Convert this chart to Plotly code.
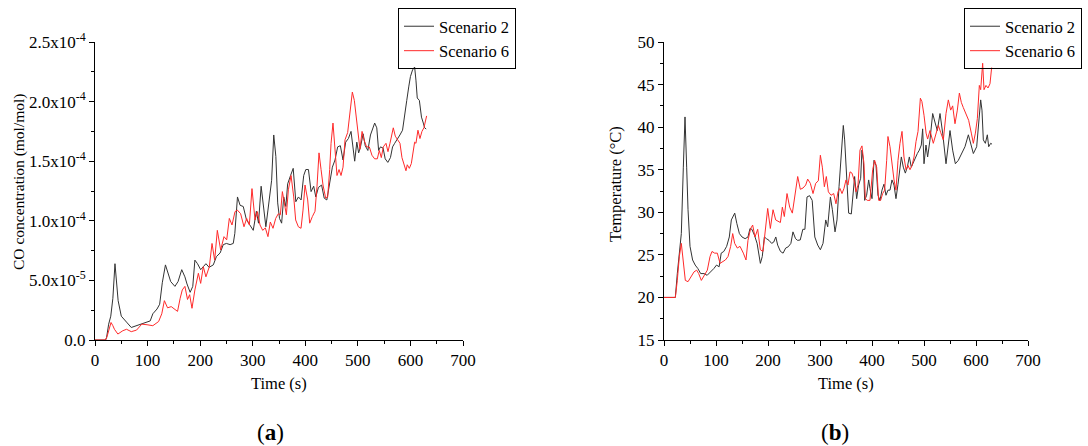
import numpy as np
import plotly.graph_objects as go

# ---------------- data ----------------
# (a) CO concentration, values in units of 1e-5 mol/mol
co_t_s2 = [0, 10, 20, 22, 26, 30, 34, 38, 41, 44, 50, 55, 60, 69, 79, 89, 99, 105, 110, 118, 123,
           128, 134, 139, 144, 152, 158, 165, 171, 175, 181, 186, 190, 195, 201, 206, 211, 217, 225,
           231, 238, 244, 250, 257, 263, 266, 271, 276, 282, 288, 295, 301, 307, 311, 316, 320, 325,
           329, 333, 336, 340, 344, 347.5, 351, 355, 359, 363, 366.5, 372, 377, 382, 387, 392, 397,
           401, 406, 411, 416, 420, 425, 431, 436, 441, 446, 451.5, 456.5, 461.6, 466.7, 471.8,
           476.8, 482, 487, 491, 494, 498, 501.5, 505, 510, 514, 519, 524, 529, 532, 536, 539.5,
           543, 548, 552, 557, 562, 566, 570, 575, 580, 585, 589, 593, 597, 600, 604, 608, 610.5,
           613, 617, 621, 624.5, 627, 630]
co_s2 = [0, 0, 0, 0.2, 1.33, 2.0, 3.5, 6.4, 4.8, 3.3, 2.0, 1.7, 1.5, 1.05, 1.2, 1.3, 1.5, 1.6, 2.2,
         2.6, 3.0, 4.8, 6.3, 5.6, 4.9, 4.5, 4.9, 5.9, 5.3, 4.7, 4.0, 4.5, 6.7, 6.4, 5.9, 6.15, 6.4,
         6.1, 6.3, 7.0, 7.3, 8.0, 8.1, 8.0, 8.1, 8.95, 12.0, 11.3, 11.2, 10.1, 9.65, 9.2, 10.8, 9.8,
         12.9, 11.2, 9.5, 10.9, 12.45, 13.4, 17.2, 15.4, 11.5, 10.2, 9.8, 12.0, 11.2, 13.1, 13.8,
         14.4, 11.6, 12.0, 11.75, 13.8, 14.3, 14.3, 12.45, 12.9, 12.0, 12.8, 13.0, 11.9, 11.75,
         13.1, 14.5, 15.1, 16.2, 16.3, 15.1, 16.6, 16.9, 17.5, 15.8, 15.0, 16.6, 15.7, 16.2, 17.3,
         16.3, 15.9, 17.2, 17.9, 18.2, 17.8, 15.9, 16.2, 16.1, 15.2, 14.9, 15.3, 16.2, 16.5, 16.8,
         17.2, 17.6, 18.7, 20.1, 21.3, 22.1, 22.65, 22.9, 21.8, 20.3, 20.1, 18.7, 18.2, 17.8, 17.7]

co_t_s6 = [0, 20, 23, 27, 30.5, 34, 37, 43.5, 53, 60, 69, 79, 89, 99, 110, 121, 127, 132, 138, 145,
           157, 162, 166, 171, 176, 180, 184.5, 190, 196.6, 201, 206, 211, 217.5, 222.6, 227.6,
           232.7, 239, 245.4, 250.5, 255.5, 260.6, 266.3, 270.7, 277, 283.4, 288.5, 293.6, 298.6,
           304.4, 308.8, 313.9, 319, 324, 329, 333.5, 338.6, 343.7, 348.8, 352.6, 356.4, 360.2, 364,
           367.8, 372.9, 378, 381.7, 386.8, 391.9, 395.7, 399.5, 404.6, 408.4, 413.4, 418.5, 422.3,
           426.1, 430, 433.7, 438.8, 442.6, 446.4, 449, 452.7, 456.5, 460.3, 464.2, 468, 471.8,
           475.6, 480.6, 485.7, 489.5, 493.3, 497.1, 501, 504, 508, 511.6, 516.7, 521.8, 526.8,
           531.9, 537, 540.8, 544.6, 548.4, 553.5, 557.3, 561.1, 565, 567.4, 571.2, 575, 580.1,
           583.9, 587.7, 591.5, 594, 597.9, 601.7, 605.5, 608, 610.5, 614.3, 618.1, 621.9, 625.7,
           628.3, 630.8]
co_s6 = [0, 0, 0.3, 1.0, 1.47, 1.2, 0.9, 0.5, 0.78, 0.9, 0.7, 0.83, 1.33, 1.28, 1.2, 1.55, 2.2, 3.3,
         2.7, 2.8, 2.4, 3.5, 4.2, 4.5, 3.4, 3.8, 2.66, 4.2, 5.6, 4.75, 6.15, 5.3, 6.15, 8.1, 6.7,
         9.2, 7.55, 8.67, 8.4, 10.2, 9.65, 10.77, 10.9, 10.6, 9.5, 10.2, 9.65, 12.7, 10.07, 10.77,
         9.65, 9.2, 9.4, 8.67, 9.9, 9.37, 10.2, 10.6, 10.5, 12.45, 11.5, 10.5, 12.6, 13.8, 12.0,
         10.07, 9.5, 9.37, 10.9, 13.0, 11.75, 9.8, 10.35, 10.8, 12.9, 15.7, 14.3, 13.0, 11.9, 12.0,
         14.3, 16.5, 18.2, 16.2, 13.8, 14.3, 13.8, 14.5, 16.8, 17.4, 19.3, 20.8, 20.1, 18.6, 16.8,
         16.0, 17.5, 16.8, 16.2, 16.2, 15.5, 15.2, 15.2, 15.9, 15.3, 16.2, 16.5, 15.8, 16.5, 17.3,
         17.8, 17.1, 16.8, 16.5, 15.3, 14.8, 14.2, 14.7, 14.4, 14.8, 15.8, 16.6, 16.5, 17.6, 16.9,
         17.5, 17.8, 18.2, 18.8]

# (b) Temperature (°C)
temp_t_s2 = [0, 21.8, 25.6, 29.5, 33.3, 37.2, 40.4, 43.6, 46.2, 50, 55, 60, 65, 70.5, 77, 83, 90, 96,
             101, 106, 110, 115, 120.5, 125.6, 129.5, 133.3, 136, 140, 145, 150, 156, 161.5, 165.4,
             169, 174, 179, 182.7, 185.3, 189, 193, 197, 202, 207, 211, 215, 218.6, 224, 229, 234,
             239, 244, 248, 253, 257, 262, 267, 271, 275, 280, 285, 290, 295.6, 300.7, 305.8, 311,
             314.8, 320, 323.8, 328.9, 332.7, 336.6, 342.3, 344.8, 347.4, 351.3, 355.1, 360.2, 364.1,
             366.6, 370.5, 374.3, 378.2, 380.7, 383.3, 385.9, 389.7, 393.6, 396.1, 400, 403.8, 407.7,
             411.5, 415.4, 419.2, 423, 426.9, 430.7, 434.6, 438.4, 442.3, 446.1, 450, 453.8, 456.4,
             460.2, 464.1, 467.9, 471.8, 475.6, 479.5, 483.3, 487.2, 491, 494.8, 497.4, 500, 503.8,
             507, 511.5, 516.7, 521, 525.6, 530.8, 535.9, 542.3, 546.8, 550, 555.1, 560.3, 566,
             572.4, 578.8, 585.3, 589.7, 594.9, 601.3, 606.4, 609, 611.5, 614.1, 618, 621.8, 624.4,
             628.2, 630.8]
temp_s2 = [20, 20, 22.8, 25.4, 27.5, 35.3, 41.2, 35.3, 30.3, 26.0, 24.4, 23.8, 23.4, 22.8, 22.8,
           22.6, 23.0, 23.4, 23.8, 23.6, 25.2, 25.4, 26.0, 27.1, 29.1, 29.5, 29.9, 28.7, 27.5, 27.1,
           26.9, 27.1, 28.1, 28.0, 27.3, 26.35, 24.6, 24.0, 24.8, 27.1, 26.9, 26.7, 26.35, 26.5,
           27.1, 26.15, 25.4, 25.2, 25.8, 25.95, 26.35, 27.7, 26.9, 26.7, 26.75, 28.0, 28.0, 31.8,
           31.95, 31.4, 27.1, 26.15, 25.6, 26.35, 29.1, 28.3, 31.8, 30.3, 27.7, 29.1, 33.0, 37.7,
           40.2, 38.5, 33.8, 29.9, 29.8, 32.6, 34.2, 31.6, 33.2, 34.0, 37.3, 36.1, 31.4, 32.0, 33.8,
           32.8, 31.6, 36.1, 35.5, 32.0, 31.4, 32.6, 33.3, 32.0, 32.6, 32.6, 33.8, 33.2, 31.6, 33.3,
           35.7, 36.5, 35.3, 34.6, 35.3, 36.5, 35.3, 35.9, 36.5, 36.9, 37.3, 37.9, 39.8, 35.7, 37.9,
           36.5, 38.5, 41.6, 40.6, 39.6, 41.6, 39.3, 35.7, 37.7, 39.6, 37.3, 35.7, 36.1, 36.9, 37.7,
           39.1, 38.1, 36.9, 37.7, 41.0, 43.2, 42.0, 38.5, 38.1, 39.1, 37.7, 38.1, 38.0]

temp_t_s6 = [0, 21.8, 25.6, 29.5, 33.3, 37.2, 41, 46.2, 51.3, 57.7, 62.8, 66.7, 71.8, 78.2, 83.3,
             88.5, 92.3, 97.4, 102.6, 107.7, 112.8, 118, 123.1, 128.2, 132.1, 135.9, 141, 146.2,
             152.6, 157.7, 161.5, 166.7, 170.5, 175, 180.2, 185.3, 190.4, 194.3, 199.4, 204.5,
             209.7, 214.8, 219.9, 223.8, 227.6, 231.4, 236.6, 241.7, 246.8, 252, 257.1, 262.2,
             267.3, 272.5, 276.3, 281.4, 286.6, 291.7, 296.8, 300.7, 304.5, 308.4, 312.2, 316.1,
             321.2, 326.3, 330.7, 334.6, 338.4, 342.3, 346.1, 350, 353.8, 357.7, 361.5, 365.4,
             369.2, 373.1, 376.9, 380.7, 384.6, 387.2, 391, 396.1, 401.3, 405.1, 409, 412.8, 416.6,
             420.5, 424.3, 428.2, 430.7, 434.6, 438.4, 442.3, 446.1, 450, 453.8, 457.7, 461.5,
             465.4, 469.2, 473.1, 477, 480.8, 484.6, 488.5, 493, 496, 500, 504, 507, 511.5, 517.9,
             523, 527.6, 532, 537.2, 542.3, 546.8, 551.3, 555.1, 559.6, 564.1, 568, 571.8, 575.6,
             580.8, 585.9, 591, 594.9, 598.8, 602.6, 606.4, 609, 612.8, 615.4, 619.2, 623.1, 626.9,
             630.1]
temp_s6 = [20, 20, 22.0, 24.8, 26.35, 24.4, 22.0, 21.85, 22.4, 23.0, 23.2, 22.8, 22.0, 22.6, 23.2,
           24.8, 25.4, 25.2, 25.2, 24.0, 24.2, 24.4, 24.8, 26.0, 27.5, 26.35, 25.8, 26.0, 25.2, 24.4,
           26.7, 28.1, 28.5, 27.1, 28.0, 25.6, 25.4, 28.0, 30.45, 28.1, 30.3, 29.1, 28.9, 28.8, 30.6,
           29.5, 32.2, 30.6, 29.9, 31.95, 34.2, 32.7, 32.85, 33.2, 33.9, 33.4, 32.2, 33.4, 33.7, 36.7,
           35.3, 33.0, 34.2, 32.4, 32.0, 32.2, 31.0, 32.4, 32.8, 32.2, 32.8, 33.8, 33.2, 34.75, 34.6,
           33.8, 32.4, 33.2, 37.3, 37.8, 35.7, 31.6, 31.4, 31.4, 35.0, 36.1, 35.3, 31.4, 31.4, 32.2,
           32.6, 36.1, 38.9, 37.7, 35.7, 33.8, 32.6, 36.1, 38.1, 39.5, 36.5, 35.0, 35.5, 35.0, 35.5,
           36.5, 38.3, 39.5, 43.4, 43.0, 41.4, 39.3, 38.6, 39.6, 38.1, 39.3, 40.2, 39.4, 38.5, 41.6,
           43.2, 42.0, 42.5, 40.4, 42.0, 44.0, 42.9, 42.3, 41.6, 40.8, 39.3, 38.1, 39.3, 41.0, 44.9,
           44.4, 47.5, 44.4, 44.9, 44.6, 45.1, 47.0]

x_ticks = [0, 100, 200, 300, 400, 500, 600, 700]
co_tickvals = [0, 5e-5, 1e-4, 1.5e-4, 2e-4, 2.5e-4]
co_ticktext = ["0.0", "5.0x10<sup>-5</sup>", "1.0x10<sup>-4</sup>", "1.5x10<sup>-4</sup>",
               "2.0x10<sup>-4</sup>", "2.5x10<sup>-4</sup>"]
temp_ticks = [15, 20, 25, 30, 35, 40, 45, 50]

# ---------------- figure ----------------
W, H = 1088, 446
BLACK_LINE = "#333333"
RED_LINE = "#ff2a2a"
FONT = "Liberation Serif"

fig = go.Figure()
fig.add_trace(go.Scatter(x=co_t_s2, y=np.array(co_s2) * 1e-5, mode="lines", name="Scenario 2",
                         line=dict(color=BLACK_LINE, width=1), xaxis="x", yaxis="y", legend="legend"))
fig.add_trace(go.Scatter(x=co_t_s6, y=np.array(co_s6) * 1e-5, mode="lines", name="Scenario 6",
                         line=dict(color=RED_LINE, width=1), xaxis="x", yaxis="y", legend="legend"))
fig.add_trace(go.Scatter(x=temp_t_s2, y=temp_s2, mode="lines", name="Scenario 2",
                         line=dict(color=BLACK_LINE, width=1), xaxis="x2", yaxis="y2", legend="legend2"))
fig.add_trace(go.Scatter(x=temp_t_s6, y=temp_s6, mode="lines", name="Scenario 6",
                         line=dict(color=RED_LINE, width=1), xaxis="x2", yaxis="y2", legend="legend2"))


def px_x(p):
    return p / W


def px_y(p):
    return 1 - p / H


def axis_style(minor_dtick, minor_tick0):
    return dict(showline=True, linecolor="black", linewidth=1, ticks="outside", ticklen=5,
                tickcolor="black", tickwidth=1, showgrid=False, zeroline=False, mirror=False,
                automargin=False,
                tickfont=dict(family=FONT, size=17, color="black"),
                minor=dict(ticks="outside", ticklen=3, tickcolor="black", tickwidth=1,
                           showgrid=False, dtick=minor_dtick, tick0=minor_tick0))


legend_style = dict(xanchor="left", yanchor="top", bgcolor="rgba(255,255,255,0)",
                    bordercolor="black", borderwidth=1,
                    font=dict(family=FONT, size=16.5, color="black"),
                    tracegroupgap=0, itemwidth=30)

ydom = [px_y(340), px_y(42)]
fig.update_layout(
    width=W, height=H, margin=dict(l=0, r=0, t=0, b=0, autoexpand=False),
    paper_bgcolor="white", plot_bgcolor="white",
    font=dict(family=FONT, size=16, color="black"),
    xaxis=dict(domain=[px_x(95), px_x(463)], range=[0, 700], tickvals=x_ticks, anchor="y",
               **axis_style(50, 0)),
    yaxis=dict(domain=ydom, range=[0, 2.5e-4], tickvals=co_tickvals, ticktext=co_ticktext,
               anchor="x", **axis_style(2.5e-5, 0)),
    xaxis2=dict(domain=[px_x(664), px_x(1028)], range=[0, 700], tickvals=x_ticks, anchor="y2",
                **axis_style(50, 0)),
    yaxis2=dict(domain=ydom, range=[15, 50], tickvals=temp_ticks, anchor="x2",
                **axis_style(2.5, 15)),
    legend=dict(x=px_x(398), y=px_y(8), **legend_style),
    legend2=dict(x=px_x(964), y=px_y(8), **legend_style),
    showlegend=True,
)

annotations = [
    dict(text="Time (s)", x=px_x(279), y=px_y(383), xref="paper", yref="paper",
         showarrow=False, font=dict(family=FONT, size=16.5), xanchor="center", yanchor="middle"),
    dict(text="Time (s)", x=px_x(846), y=px_y(383), xref="paper", yref="paper",
         showarrow=False, font=dict(family=FONT, size=16.5), xanchor="center", yanchor="middle"),
    dict(text="CO concentration (mol/mol)", x=px_x(19), y=px_y(182), xref="paper", yref="paper",
         showarrow=False, textangle=-90, font=dict(family=FONT, size=15.5), xanchor="center",
         yanchor="middle"),
    dict(text="Temperature (°C)", x=px_x(615), y=px_y(184), xref="paper", yref="paper",
         showarrow=False, textangle=-90, font=dict(family=FONT, size=16.5), xanchor="center",
         yanchor="middle"),
    dict(text="(<b>a</b>)", x=px_x(270), y=px_y(432), xref="paper", yref="paper",
         showarrow=False, font=dict(family=FONT, size=23), xanchor="center", yanchor="middle"),
    dict(text="(<b>b</b>)", x=px_x(835), y=px_y(432), xref="paper", yref="paper",
         showarrow=False, font=dict(family=FONT, size=23), xanchor="center", yanchor="middle"),
]
fig.update_layout(annotations=annotations)

fig.write_html("out.html")
